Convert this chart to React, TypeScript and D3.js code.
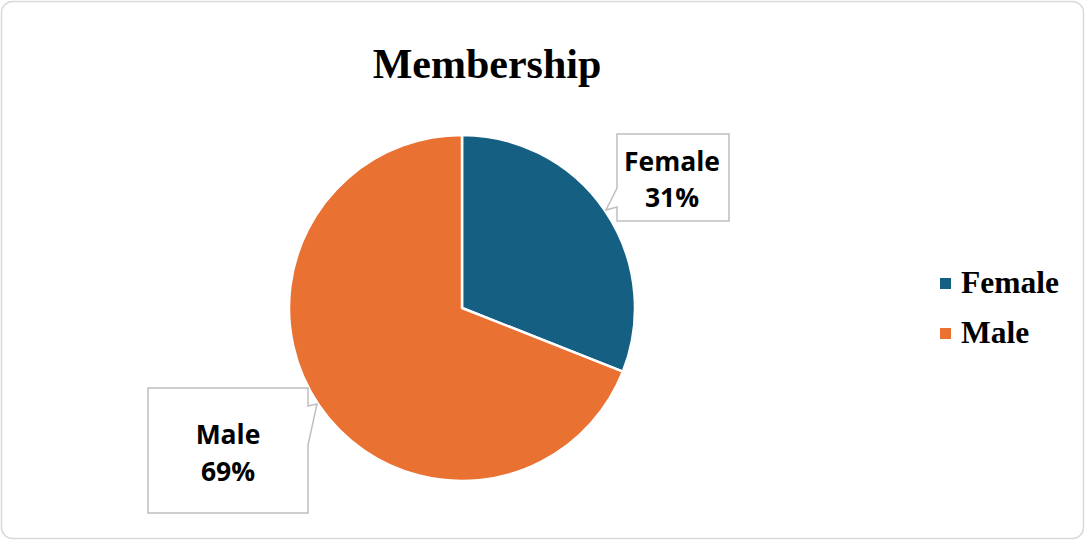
import React, { useEffect, useRef } from 'react'
import * as d3 from 'd3'

// data
const categories: string[] = ['Female', 'Male']
const shares: number[] = [31, 69]
const sliceColors: string[] = ['#156082', '#E97132']

const width = 1085
const height = 540
const cx = 462
const cy = 308
const radius = 173

const labelFont = '"Open Sans", "Liberation Sans", sans-serif'
const serifFont = '"Liberation Serif", "Times New Roman", serif'

export default function App () {
  const ref = useRef<SVGSVGElement | null>(null)

  useEffect(() => {
    const svg = d3.select(ref.current)
    svg.selectAll('*').remove()

    // outer frame
    svg.append('rect')
      .attr('x', 1.5).attr('y', 1.5)
      .attr('width', width - 3).attr('height', height - 3)
      .attr('rx', 11)
      .attr('fill', '#fff')
      .attr('stroke', '#d9d9d9')
      .attr('stroke-width', 1.5)

    // title
    svg.append('text')
      .attr('x', 487).attr('y', 78)
      .attr('text-anchor', 'middle')
      .attr('font-family', serifFont)
      .attr('font-weight', 'bold')
      .attr('font-size', 42)
      .attr('fill', '#000')
      .text('Membership')

    // pie
    const data = categories.map((c, i) => ({ name: c, value: shares[i] }))
    const color = d3.scaleOrdinal<string, string>().domain(categories).range(sliceColors)
    const pie = d3.pie<{ name: string, value: number }>().sort(null).value(d => d.value)
    const arc = d3.arc<d3.PieArcDatum<{ name: string, value: number }>>()
      .innerRadius(0).outerRadius(radius)

    const g = svg.append('g').attr('transform', `translate(${cx},${cy})`)
    g.selectAll('path')
      .data(pie(data))
      .enter().append('path')
      .attr('d', arc)
      .attr('fill', d => color(d.data.name))
      .attr('stroke', '#fff')
      .attr('stroke-width', 2.5)
      .attr('stroke-linejoin', 'round')

    // callouts: box outline with the little pointer toward the slice
    const callouts = [
      {
        path: 'M617,134 H729 V221 H617 V207 L606,210 L617,188 Z',
        tx: 672, lines: [171, 207]
      },
      {
        path: 'M148,388 H308 V406 L317,404 L308,445 V513 H148 Z',
        tx: 228, lines: [444, 481]
      }
    ]
    callouts.forEach((c, i) => {
      svg.append('path')
        .attr('d', c.path)
        .attr('fill', '#fff')
        .attr('stroke', '#bfbfbf')
        .attr('stroke-width', 1.5)
      const t = svg.append('text')
        .attr('text-anchor', 'middle')
        .attr('font-family', labelFont)
        .attr('font-weight', 'bold')
        .attr('font-size', 26.5)
        .attr('fill', '#000')
      t.append('tspan').attr('x', c.tx).attr('y', c.lines[0]).text(categories[i])
      t.append('tspan').attr('x', c.tx).attr('y', c.lines[1]).text(`${shares[i]}%`)
    })

    // legend
    const legend = svg.append('g')
    categories.forEach((c, i) => {
      const y = 278 + i * 50
      legend.append('rect')
        .attr('x', 940).attr('y', y)
        .attr('width', 11).attr('height', 11)
        .attr('fill', color(c))
      legend.append('text')
        .attr('x', 961).attr('y', y + 15)
        .attr('font-family', serifFont)
        .attr('font-weight', 'bold')
        .attr('font-size', 31.5)
        .attr('fill', '#000')
        .text(c)
    })
  }, [])

  return (
    <svg ref={ref} width={width} height={height}
      style={{ position: 'absolute', left: 0, top: 0, display: 'block' }} />
  )
}
